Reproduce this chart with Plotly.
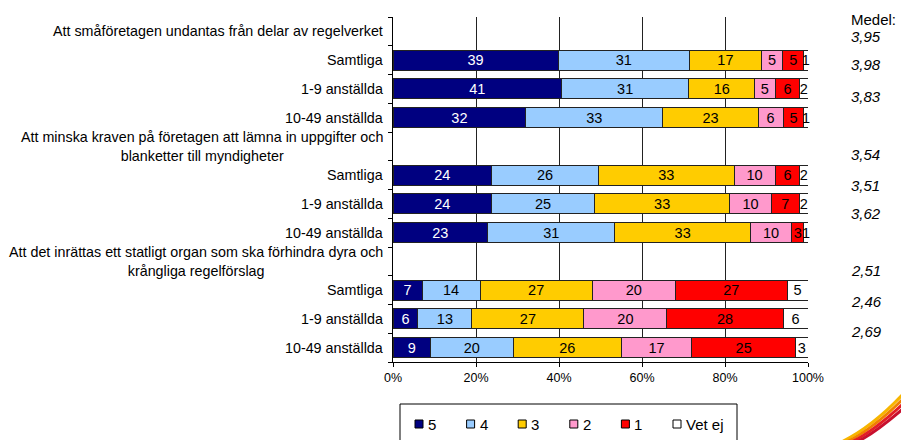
import plotly.graph_objects as go

# rows of the chart (header rows carry no bars)
ROW_LABELS = [
    "Att småföretagen undantas från delar av regelverket",
    "Samtliga", "1-9 anställda", "10-49 anställda",
    "Att minska kraven på företagen att lämna in uppgifter och<br>blanketter till myndigheter",
    "Samtliga", "1-9 anställda", "10-49 anställda",
    "Att det inrättas ett statligt organ som ska förhindra dyra och<br>krångliga regelförslag",
    "Samtliga", "1-9 anställda", "10-49 anställda",
]

SERIES_NAMES = ["5", "4", "3", "2", "1", "Vet ej"]
S5 = [None, 39, 41, 32, None, 24, 24, 23, None, 7, 6, 9]
S4 = [None, 31, 31, 33, None, 26, 25, 31, None, 14, 13, 20]
S3 = [None, 17, 16, 23, None, 33, 33, 33, None, 27, 27, 26]
S2 = [None, 5, 5, 6, None, 10, 10, 10, None, 20, 20, 17]
S1 = [None, 5, 6, 5, None, 6, 7, 3, None, 27, 28, 25]
VET_EJ = [None, 1, 2, 1, None, 2, 2, 1, None, 5, 6, 3]

MEDEL = [3.95, 3.98, 3.83, 3.54, 3.51, 3.62, 2.51, 2.46, 2.69]
# vertical placement of the "Medel" figures (in row units, as in the original)
MEDEL_Y = [0.17, 1.15, 2.26, 4.29, 5.37, 6.34, 8.33, 9.41, 10.45]

X_TICKS = [0, 20, 40, 60, 80, 100]

COLORS = ["#000080", "#99CCFF", "#FFCC00", "#FF99CC", "#FF0000", "#FFFFFF"]
TEXT_COLORS = ["white", "black", "black", "black", "black", "black"]

FONT = "Liberation Sans, Arial, sans-serif"

# plot area in pixels
W, H = 901, 440
L, R, T, B = 393, 808, 17, 362


def px_x(p):
    return (p - L) / (R - L)


def px_y(p):
    return (B - p) / (B - T)


rows = list(range(len(ROW_LABELS)))
fig = go.Figure()

for name, vals, col, tcol in zip(SERIES_NAMES, [S5, S4, S3, S2, S1, VET_EJ], COLORS, TEXT_COLORS):
    fig.add_trace(go.Bar(
        x=vals, y=rows, orientation="h", name=name,
        marker=dict(color=col, line=dict(color="#222222", width=1)),
        width=0.7,
        text=["" if v is None else str(v) for v in vals],
        texttemplate="%{text}", textposition="inside", insidetextanchor="middle",
        constraintext="none", textangle=0, cliponaxis=False,
        textfont=dict(family=FONT, size=14.5, color=tcol),
        showlegend=False,
    ))

annotations = []
for i, lab in enumerate(ROW_LABELS):
    annotations.append(dict(
        x=0, xref="paper", y=i, yref="y", text=lab, showarrow=False,
        xanchor="right", yanchor="middle", xshift=-8, align="center",
        font=dict(family=FONT, size=14.3, color="black"),
    ))

annotations.append(dict(
    x=px_x(849), xref="paper", y=px_y(19), yref="paper", text="Medel:",
    showarrow=False, xanchor="left", yanchor="middle",
    font=dict(family=FONT, size=15, color="black"),
))
for m, yy in zip(MEDEL, MEDEL_Y):
    annotations.append(dict(
        x=px_x(849), xref="paper", y=yy, yref="y",
        text="<i>" + f"{m:.2f}".replace(".", ",") + "</i>",
        showarrow=False, xanchor="left", yanchor="middle",
        font=dict(family=FONT, size=15, color="black"),
    ))

# legend drawn by hand to match the compact original
shapes = [dict(type="rect", xref="paper", yref="paper",
               x0=px_x(400), x1=px_x(737), y0=px_y(404), y1=px_y(450),
               line=dict(color="black", width=1), fillcolor="white")]
for i, (name, col) in enumerate(zip(SERIES_NAMES, COLORS)):
    x0 = 415 + i * 51.6
    shapes.append(dict(type="rect", xref="paper", yref="paper",
                       x0=px_x(x0), x1=px_x(x0 + 8), y0=px_y(428), y1=px_y(420),
                       line=dict(color="black", width=1), fillcolor=col))
    annotations.append(dict(
        x=px_x(x0 + 11), xref="paper", y=px_y(424.5), yref="paper", text=name,
        showarrow=False, xanchor="left", yanchor="middle",
        font=dict(family=FONT, size=15, color="black"),
    ))

# small swoosh in the lower right corner
for c, off in [("#F7B500", 0), ("#F08000", 5), ("#E31E24", 10), ("#C8102E", 15)]:
    shapes.append(dict(type="path", xref="paper", yref="paper",
                       path=f"M {px_x(835 + off)},{px_y(445)} Q {px_x(870)},{px_y(430 + off / 2)} "
                            f"{px_x(905)},{px_y(392 + off)}",
                       line=dict(color=c, width=3)))

fig.update_layout(
    width=W, height=H,
    margin=dict(l=L, r=W - R, t=T, b=H - B),
    paper_bgcolor="white", plot_bgcolor="white",
    barmode="stack", barnorm="percent",
    font=dict(family=FONT, size=12, color="black"),
    xaxis=dict(range=[0, 100], tickvals=X_TICKS, ticktext=[f"{v}%" for v in X_TICKS],
               showgrid=True, gridcolor="#222222", gridwidth=1,
               showline=True, linecolor="black", linewidth=1,
               ticks="outside", ticklen=4, tickcolor="black",
               tickfont=dict(family=FONT, size=12.5), zeroline=False, fixedrange=True),
    yaxis=dict(range=[len(rows) - 0.5, -0.5], tickvals=[r - 0.5 for r in rows] + [len(rows) - 0.5],
               showticklabels=False, showgrid=False, zeroline=False,
               showline=True, linecolor="black", linewidth=1,
               ticks="outside", ticklen=4, tickcolor="black", fixedrange=True),
    annotations=annotations, shapes=shapes,
)

# drop the browser's default body margin so the figure sits at the page corner
fig.write_html("out.html", config={"displayModeBar": False},
               post_script="document.body.style.margin='0';")
